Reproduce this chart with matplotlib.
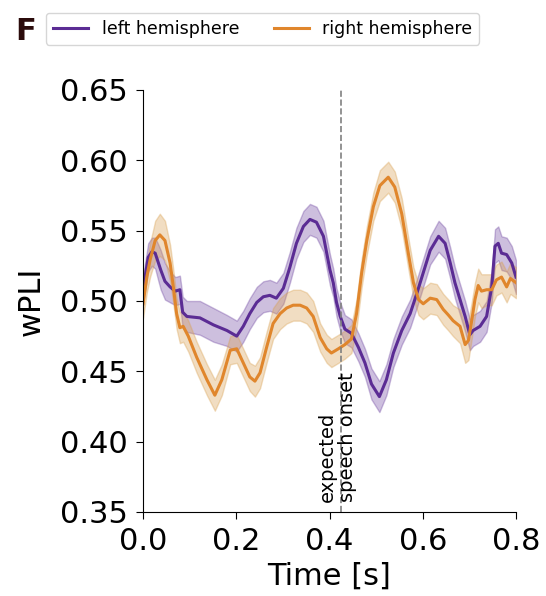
import matplotlib.pyplot as plt
import numpy as np

# left hemisphere (purple)
t_left = [0.000, 0.011, 0.019, 0.026, 0.033, 0.038, 0.047, 0.058, 0.069, 0.079,
          0.085, 0.094, 0.122, 0.151, 0.180, 0.201, 0.215, 0.229, 0.244, 0.258,
          0.272, 0.286, 0.301, 0.315, 0.329, 0.344, 0.358, 0.372, 0.387, 0.401,
          0.408, 0.415, 0.423, 0.433, 0.447, 0.462, 0.476, 0.490, 0.507, 0.522,
          0.537, 0.555, 0.573, 0.587, 0.601, 0.616, 0.634, 0.648, 0.659, 0.669,
          0.680, 0.691, 0.701, 0.708, 0.723, 0.737, 0.748, 0.755, 0.762, 0.769,
          0.780, 0.791, 0.800]
wpli_left = [0.508, 0.531, 0.535, 0.534, 0.527, 0.522, 0.514, 0.510, 0.507, 0.508,
             0.492, 0.489, 0.488, 0.483, 0.479, 0.475, 0.482, 0.491, 0.499, 0.503,
             0.504, 0.502, 0.509, 0.524, 0.541, 0.553, 0.558, 0.556, 0.546, 0.522,
             0.513, 0.499, 0.489, 0.480, 0.477, 0.467, 0.456, 0.441, 0.432, 0.444,
             0.463, 0.479, 0.491, 0.505, 0.520, 0.536, 0.546, 0.541, 0.527, 0.513,
             0.501, 0.489, 0.476, 0.479, 0.482, 0.489, 0.510, 0.539, 0.541, 0.534,
             0.533, 0.527, 0.517]
sem_left = [0.010, 0.010, 0.010, 0.011, 0.013, 0.014, 0.013, 0.011, 0.010, 0.010,
            0.011, 0.011, 0.012, 0.012, 0.011, 0.011, 0.011, 0.011, 0.011, 0.011,
            0.011, 0.011, 0.011, 0.011, 0.011, 0.011, 0.011, 0.011, 0.011, 0.011,
            0.010, 0.010, 0.010, 0.010, 0.010, 0.010, 0.010, 0.011, 0.011, 0.011,
            0.010, 0.010, 0.010, 0.010, 0.010, 0.010, 0.011, 0.011, 0.011, 0.011,
            0.011, 0.011, 0.011, 0.011, 0.011, 0.011, 0.011, 0.012, 0.012, 0.012,
            0.012, 0.012, 0.012]

# right hemisphere (orange)
t_right = [0.000, 0.008, 0.015, 0.026, 0.036, 0.047, 0.058, 0.065, 0.072, 0.079,
           0.086, 0.097, 0.115, 0.137, 0.154, 0.169, 0.187, 0.201, 0.215, 0.229,
           0.240, 0.251, 0.265, 0.279, 0.294, 0.308, 0.322, 0.337, 0.351, 0.365,
           0.380, 0.394, 0.404, 0.419, 0.433, 0.447, 0.458, 0.469, 0.480, 0.494,
           0.508, 0.526, 0.540, 0.555, 0.569, 0.580, 0.591, 0.601, 0.616, 0.630,
           0.644, 0.655, 0.665, 0.680, 0.691, 0.698, 0.705, 0.712, 0.719, 0.726,
           0.737, 0.748, 0.758, 0.769, 0.780, 0.788, 0.800]
wpli_right = [0.498, 0.517, 0.529, 0.543, 0.547, 0.543, 0.527, 0.510, 0.491, 0.481,
              0.482, 0.475, 0.460, 0.444, 0.433, 0.444, 0.465, 0.466, 0.456, 0.446,
              0.443, 0.449, 0.467, 0.484, 0.491, 0.495, 0.497, 0.497, 0.495, 0.489,
              0.474, 0.466, 0.463, 0.466, 0.469, 0.473, 0.491, 0.520, 0.543, 0.567,
              0.582, 0.588, 0.581, 0.562, 0.534, 0.513, 0.501, 0.498, 0.502, 0.501,
              0.494, 0.490, 0.486, 0.482, 0.469, 0.472, 0.486, 0.501, 0.511, 0.507,
              0.508, 0.508, 0.515, 0.517, 0.510, 0.516, 0.513]
sem_right = [0.010, 0.011, 0.012, 0.014, 0.015, 0.014, 0.013, 0.012, 0.011, 0.011,
             0.011, 0.011, 0.011, 0.011, 0.011, 0.011, 0.010, 0.010, 0.010, 0.010,
             0.011, 0.011, 0.011, 0.011, 0.011, 0.011, 0.011, 0.011, 0.011, 0.011,
             0.010, 0.010, 0.010, 0.010, 0.010, 0.010, 0.010, 0.010, 0.010, 0.010,
             0.011, 0.011, 0.011, 0.011, 0.011, 0.011, 0.011, 0.011, 0.011, 0.011,
             0.011, 0.011, 0.011, 0.012, 0.013, 0.014, 0.013, 0.012, 0.012, 0.012,
             0.011, 0.011, 0.011, 0.011, 0.011, 0.011, 0.011]

onset = 0.425

c_left = "#5b2c94"
c_right = "#e0862c"
band_right = "#d9a050"

fig = plt.figure(figsize=(5.46, 5.96), dpi=100)
ax = fig.add_axes([0.262, 0.141, 0.683, 0.708])

tl = np.array(t_left); yl = np.array(wpli_left); sl = np.array(sem_left)
tr = np.array(t_right); yr = np.array(wpli_right); sr = np.array(sem_right)

ax.fill_between(tl, yl - sl, yl + sl, color=c_left, alpha=0.3, lw=1)
ax.fill_between(tr, yr - sr, yr + sr, color=band_right, alpha=0.35, lw=1)
ax.plot(tl, yl, color=c_left, lw=2.2, label="left hemisphere")
ax.plot(tr, yr, color=c_right, lw=2.2, label="right hemisphere")

ax.axvline(onset, color="gray", ls="--", lw=1.2)
ax.text(0.417, 0.357, "expected\nspeech onset", rotation=90, linespacing=1.05,
        ha="center", va="bottom", multialignment="left", fontsize=14)

ax.set_xlim(0, 0.8)
ax.set_ylim(0.35, 0.65)
ax.set_xticks([0.0, 0.2, 0.4, 0.6, 0.8])
ax.set_yticks([0.35, 0.40, 0.45, 0.50, 0.55, 0.60, 0.65])
ax.tick_params(labelsize=22, length=5, pad=6)
ax.set_xlabel("Time [s]", fontsize=22)
ax.set_ylabel("wPLI", fontsize=22, labelpad=10)
ax.spines["top"].set_visible(False)
ax.spines["right"].set_visible(False)

fig.legend(loc="upper left", bbox_to_anchor=(46 / 546, 1 - 13 / 596),
           ncol=2, fontsize=12.5, borderaxespad=0)
fig.text(15 / 546, 1 - 40 / 596, "F", fontsize=22, fontweight="bold",
         color="#2b0b0b", ha="left", va="baseline")

fig.savefig("out.png", dpi=100)
